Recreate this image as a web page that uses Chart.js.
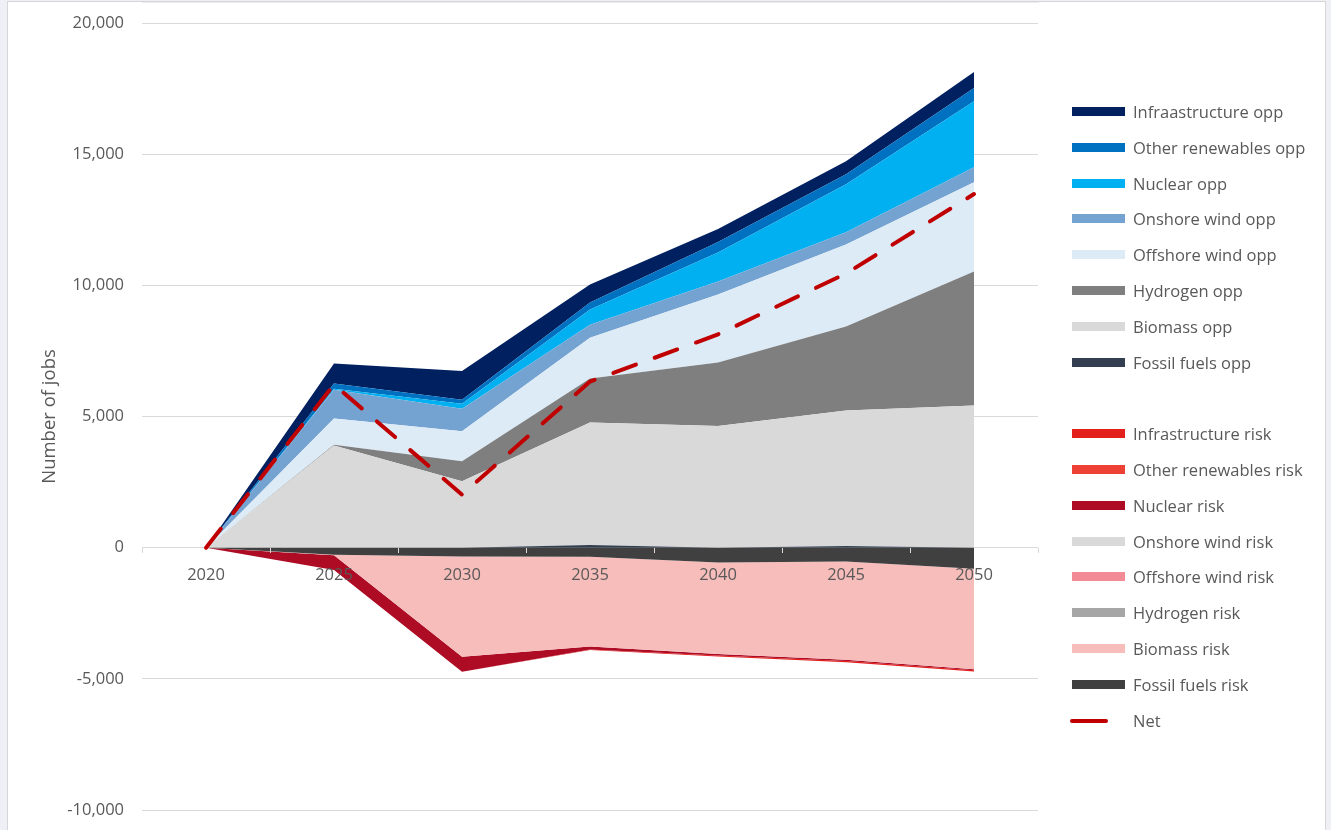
<!DOCTYPE html>
<html>
<head>
<meta charset="utf-8">
<title>Jobs opportunities and risks</title>
<script src="https://cdn.jsdelivr.net/npm/chart.js@4.4.1/dist/chart.umd.min.js"></script>
<style>
  html, body { margin: 0; padding: 0; background: #eef0f5; }
  #frame {
    position: absolute; left: 7px; top: 1px;
    width: 1317px; height: 840px;
    background: #fff; border: 1px solid #d6d6d6;
  }
  #wrap { position: absolute; left: 0; top: 0; width: 1317px; height: 828px; }
  #legend {
    position: absolute; left: 0; top: 0;
    font-family: 'Open Sans', 'Liberation Sans', sans-serif;
    font-size: 16.5px; color: #595959;
  }
  .item { position: absolute; left: 1070px; height: 24px; white-space: nowrap; }
  .item .swatch { position: absolute; left: 2px; top: 7px; width: 53px; height: 9px; }
  .item .swatch.line { left: 0; top: 10px; width: 38px; height: 4px; border-radius: 2px; }
  .item .text { position: absolute; left: 63px; top: 0; line-height: 24px; }
</style>
</head>
<body>
<div id="frame"><div id="wrap"><canvas id="jobsChart"></canvas></div></div>
<div id="legend"></div>
<script>
const years = ["2020", "2025", "2030", "2035", "2040", "2045", "2050"];

// opportunities (stacked upwards, bottom first)
const fossilOpp = [0, 0, 0, 100, 0, 60, 0];
const biomassOpp = [0, 3890, 2530, 4670, 4640, 5170, 5420];
const hydrogenOpp = [0, 30, 760, 1680, 2420, 3200, 5110];
const offshoreOpp = [0, 1000, 1150, 1550, 2590, 3130, 3400];
const onshoreOpp = [0, 1100, 860, 500, 500, 460, 570];
const nuclearOpp = [0, 40, 190, 580, 1100, 1830, 2520];
const otherOpp = [0, 200, 150, 270, 400, 380, 500];
const infraOpp = [0, 760, 1090, 680, 500, 500, 610];

// risks (stacked downwards, nearest to zero first)
const fossilRisk = [0, -270, -340, -350, -570, -530, -800];
const biomassRisk = [0, -20, -3820, -3420, -3480, -3740, -3830];
const hydrogenRisk = [0, 0, 0, 0, 0, 0, 0];
const offshoreRisk = [0, 0, 0, 0, 0, 0, 0];
const onshoreRisk = [0, 0, 0, 0, 0, 0, 0];
const nuclearRisk = [0, -560, -570, -110, -60, -50, -40];
const otherRisk = [0, 0, 0, 0, 0, 0, 0];
const infraRisk = [0, 0, 0, -20, -40, -50, -50];

const net = [0, 6220, 2020, 6330, 8130, 10450, 13480];

const yTicks = { min: -10000, max: 20000, step: 5000 };

function area(label, data, color, stack, first) {
  return {
    label: label,
    data: data,
    stack: stack,
    backgroundColor: color,
    borderColor: color,
    borderWidth: 0,
    pointRadius: 0,
    pointHoverRadius: 0,
    fill: first ? "origin" : "-1",
    tension: 0,
  };
}

const netSet = {
  label: "Net",
  data: net,
  stack: "net",
  borderColor: "#c00000",
  backgroundColor: "#c00000",
  borderWidth: 4,
  borderDash: [24, 20],
  borderCapStyle: "round",
  pointRadius: 0,
  fill: false,
  tension: 0,
};

const riskSets = [
  area("Fossil fuels risk", fossilRisk, "#404040", "risk", true),
  area("Biomass risk", biomassRisk, "#f7bdbb", "risk"),
  area("Hydrogen risk", hydrogenRisk, "#a6a6a6", "risk"),
  area("Offshore wind risk", offshoreRisk, "#f38b97", "risk"),
  area("Onshore wind risk", onshoreRisk, "#d9d9d9", "risk"),
  area("Nuclear risk", nuclearRisk, "#ae0b24", "risk"),
  area("Other renewables risk", otherRisk, "#ee4136", "risk"),
  area("Infrastructure risk", infraRisk, "#e3201b", "risk"),
];

const oppSets = [
  area("Fossil fuels opp", fossilOpp, "#333f50", "opp", true),
  area("Biomass opp", biomassOpp, "#d9d9d9", "opp"),
  area("Hydrogen opp", hydrogenOpp, "#7f7f7f", "opp"),
  area("Offshore wind opp", offshoreOpp, "#ddebf7", "opp"),
  area("Onshore wind opp", onshoreOpp, "#74a3d2", "opp"),
  area("Nuclear opp", nuclearOpp, "#00b0f0", "opp"),
  area("Other renewables opp", otherOpp, "#0070c0", "opp"),
  area("Infraastructure opp", infraOpp, "#002060", "opp"),
];

// net first so it is painted on top of the areas
const datasets = [netSet].concat(riskSets, oppSets);

Chart.defaults.font.family = "'Open Sans', 'Liberation Sans', sans-serif";
Chart.defaults.font.size = 16.5;
Chart.defaults.color = "#595959";

const chart = new Chart(document.getElementById("jobsChart"), {
  type: "line",
  data: { labels: years, datasets: datasets },
  options: {
    responsive: true,
    maintainAspectRatio: false,
    animation: false,
    layout: { padding: { left: 14, top: 0, bottom: 0, right: 287 } },
    plugins: {
      tooltip: { enabled: false },
      legend: { display: false },
    },
    scales: {
      x: {
        position: { y: 0 },
        offset: true,
        grid: {
          display: true,
          drawOnChartArea: false,
          drawTicks: true,
          tickLength: 5,
          offset: true,
          color: "#d9d9d9",
          z: 1,
        },
        border: { display: true, color: "#d9d9d9" },
        // year labels sit over the areas
        ticks: { padding: 13, color: "#595959", z: 1 },
      },
      y: {
        stacked: true,
        min: yTicks.min,
        max: yTicks.max,
        afterFit(scale) {
          // fixed axis width and plot margins
          scale.width = 120;
          scale.paddingTop = 21;
          scale.paddingBottom = 20;
        },
        ticks: { stepSize: yTicks.step, padding: 18, color: "#595959" },
        grid: { color: "#d9d9d9", drawTicks: false },
        border: { display: false },
        title: {
          display: true,
          text: "Number of jobs",
          color: "#595959",
          font: { size: 18.5 },
          padding: { top: 17, bottom: 0 },
        },
      },
    },
  },
});

// legend: opp group top-down, a blank row, risk group top-down, then net
function buildLegend() {
  const box = document.getElementById("legend");
  const rows = oppSets.slice().reverse()
    .concat([null], riskSets.slice().reverse(), [netSet]);
  const firstCentre = 112;
  const pitch = 35.8;
  rows.forEach((ds, i) => {
    if (!ds) return;
    const item = document.createElement("div");
    item.className = "item";
    item.style.top = (firstCentre + i * pitch - 12) + "px";
    const sw = document.createElement("div");
    sw.className = ds === netSet ? "swatch line" : "swatch";
    sw.style.background = ds.borderColor;
    const tx = document.createElement("div");
    tx.className = "text";
    tx.textContent = ds.label;
    item.appendChild(sw);
    item.appendChild(tx);
    box.appendChild(item);
  });
}
buildLegend();
</script>
</body>
</html>
